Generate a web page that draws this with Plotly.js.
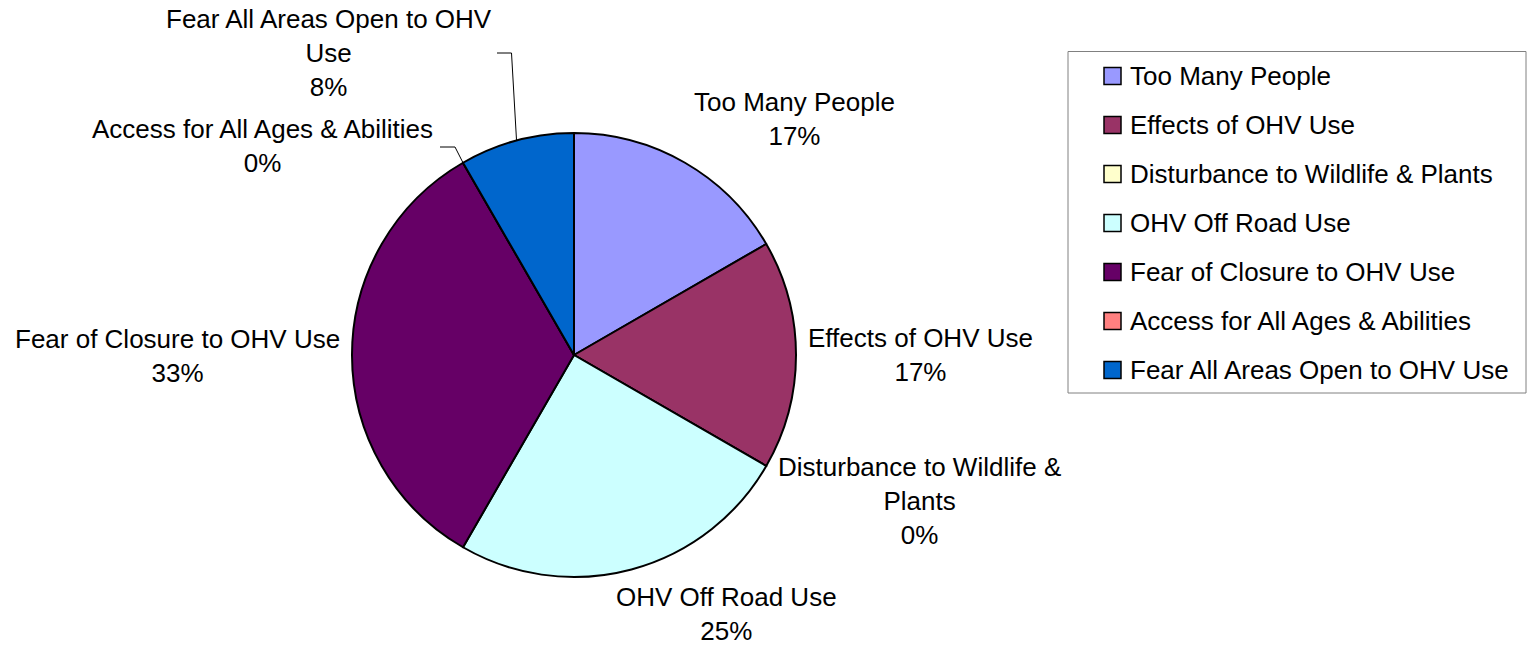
<!DOCTYPE html>
<html>
<head>
<meta charset="utf-8">
<script src="https://cdn.plot.ly/plotly-3.0.1.min.js"></script>
<style>
  html, body { margin: 0; padding: 0; background: #ffffff; }
  #chart { width: 1537px; height: 645px; }
</style>
</head>
<body>
<div id="chart"></div>
<script>
// ---------------- data ----------------
const categories = [
  "Too Many People",
  "Effects of OHV Use",
  "Disturbance to Wildlife & Plants",
  "OHV Off Road Use",
  "Fear of Closure to OHV Use",
  "Access for All Ages & Abilities",
  "Fear All Areas Open to OHV Use"
];
const counts = [2, 2, 0, 3, 4, 0, 1];
const sliceColors = ["#9999FF", "#993366", "#FFFFCC", "#CCFFFF", "#660066", "#FF8080", "#0066CC"];
// label text as wrapped in the original
const labelText = [
  "Too Many People",
  "Effects of OHV Use",
  "Disturbance to Wildlife &<br>Plants",
  "OHV Off Road Use",
  "Fear of Closure to OHV Use",
  "Access for All Ages & Abilities",
  "Fear All Areas Open to OHV<br>Use"
];

// ---------------- layout constants ----------------
const W = 1537, H = 645;
const CX = 574, CY = 355, R = 222;
const FONT = "Liberation Sans, Arial, sans-serif";
const FS = 26;
// label block centres (pixels)
const labelPos = [[794, 119], [920.5, 355], [919, 501], [726, 614], [177.5, 356], [262.5, 146], [329, 53]];
// leader elbows (pixels) for labels that use a leader line: [elbowX, elbowY, endX]
const leaders = { 5: [455, 147, 440], 6: [511.5, 53, 497] };

const px = x => x / W;
const py = y => 1 - y / H;

const total = counts.reduce((a, b) => a + b, 0);
const pct = counts.map(v => Math.round(v / total * 100) + "%");

// mid-angle of each slice (clockwise from 12 o'clock)
let acc = 0;
const midAngle = counts.map(v => {
  const a0 = acc / total * 360;
  acc += v;
  const a1 = acc / total * 360;
  return (a0 + a1) / 2;
});

const annotations = [];
const shapes = [];

categories.forEach((c, i) => {
  annotations.push({
    xref: "paper", yref: "paper",
    x: px(labelPos[i][0]), y: py(labelPos[i][1]),
    xanchor: "center", yanchor: "middle",
    text: labelText[i] + "<br>" + pct[i],
    showarrow: false,
    align: "center",
    font: { family: FONT, size: FS, color: "#000000" }
  });
  if (leaders[i]) {
    const th = midAngle[i] * Math.PI / 180;
    const ex = CX + R * Math.sin(th), ey = CY - R * Math.cos(th);
    const [bx, by, tx] = leaders[i];
    shapes.push({
      type: "path", xref: "paper", yref: "paper",
      path: `M ${px(ex)} ${py(ey)} L ${px(bx)} ${py(by)} L ${px(tx)} ${py(by)}`,
      line: { color: "#000000", width: 1 }
    });
  }
});

// ---------------- custom legend ----------------
const LG = { x0: 1068, y0: 51.5, x1: 1526, y1: 393, rowY0: 76, step: 49, swX: 1104, sw: 17, txtX: 1128 };
shapes.push({
  type: "rect", xref: "paper", yref: "paper",
  x0: px(LG.x0), x1: px(LG.x1), y0: py(LG.y0), y1: py(LG.y1),
  line: { color: "#808080", width: 1 }, fillcolor: "rgba(0,0,0,0)"
});
categories.forEach((c, i) => {
  const yc = LG.rowY0 + LG.step * i;
  shapes.push({
    type: "rect", xref: "paper", yref: "paper",
    x0: px(LG.swX), x1: px(LG.swX + LG.sw),
    y0: py(yc - LG.sw / 2), y1: py(yc + LG.sw / 2),
    line: { color: "#000000", width: 1.5 }, fillcolor: sliceColors[i]
  });
  annotations.push({
    xref: "paper", yref: "paper",
    x: px(LG.txtX), y: py(yc),
    xanchor: "left", yanchor: "middle",
    text: c, showarrow: false,
    font: { family: FONT, size: FS, color: "#000000" }
  });
});

const trace = {
  type: "pie",
  labels: categories,
  values: counts,
  sort: false,
  direction: "clockwise",
  rotation: 0,
  textinfo: "none",
  hoverinfo: "label+percent",
  marker: { colors: sliceColors, line: { color: "#000000", width: 2 } },
  domain: { x: [px(CX - R), px(CX + R)], y: [py(CY + R), py(CY - R)] },
  showlegend: false
};

const layout = {
  width: W, height: H,
  margin: { l: 0, r: 0, t: 0, b: 0 },
  paper_bgcolor: "#ffffff",
  showlegend: false,
  annotations: annotations,
  shapes: shapes,
  font: { family: FONT, size: FS, color: "#000000" }
};

Plotly.newPlot("chart", [trace], layout, { staticPlot: true, displayModeBar: false });
</script>
</body>
</html>
